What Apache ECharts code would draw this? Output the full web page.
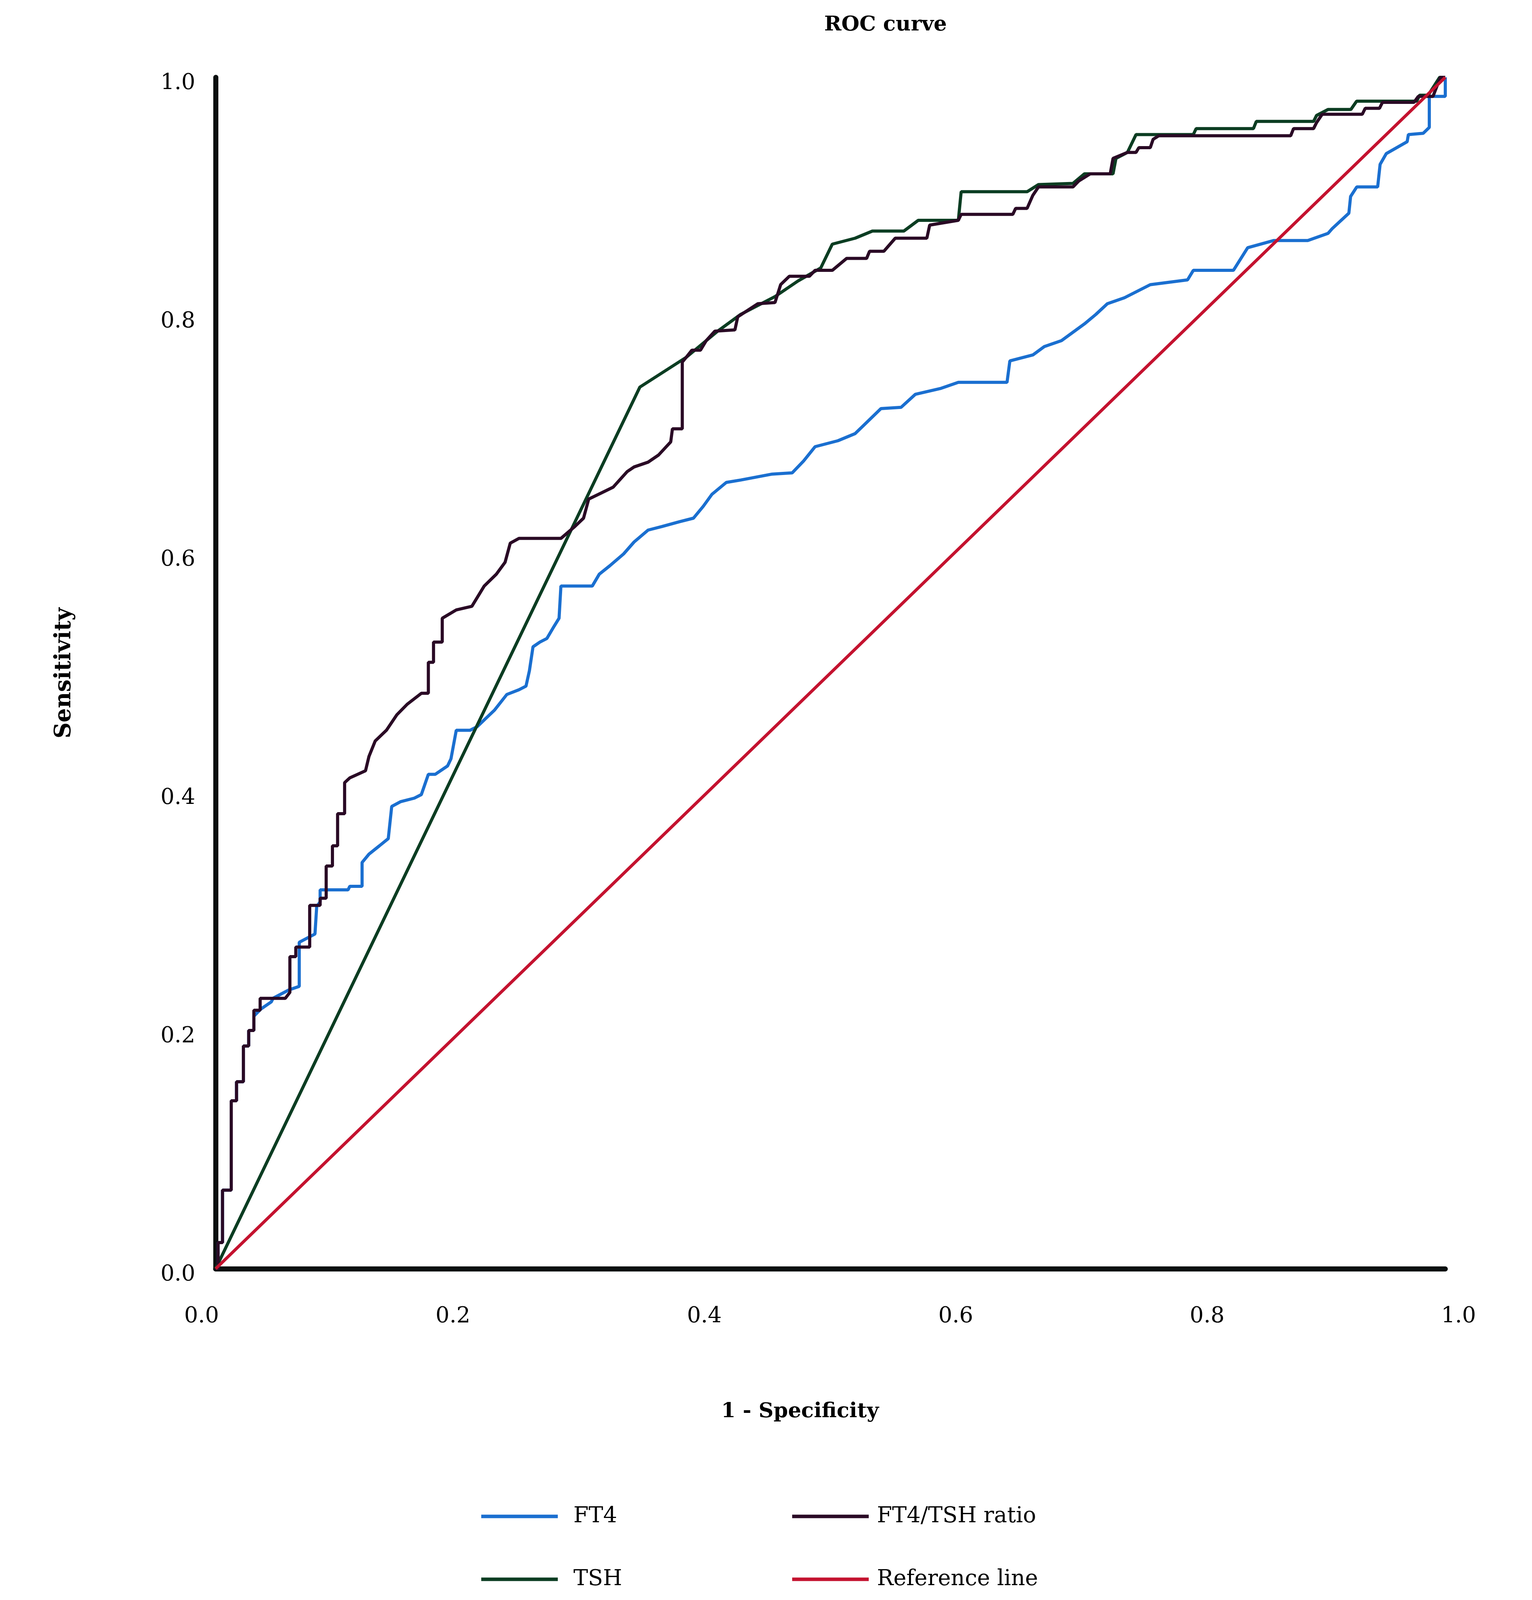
<!DOCTYPE html>
<html>
<head>
<meta charset="utf-8">
<script src="https://cdn.jsdelivr.net/npm/echarts@6/dist/echarts.min.js"></script>
<style>
html,body{margin:0;padding:0;background:#fff;overflow:hidden;}
#chart{width:3922px;height:4209px;}
</style>
</head>
<body>
<div id="chart"></div>
<script>
// ---- data (1 - specificity, sensitivity) ----
const tickLabels = ['0.0','0.2','0.4','0.6','0.8','1.0'];
const legendRow1 = ['FT4', 'FT4/TSH ratio'];
const legendRow2 = ['TSH', 'Reference line'];

const ft4Points = [
  [0,0],[0.002,0],[0.002,0.022],[0.0056,0.022],[0.0056,0.066],[0.0127,0.066],[0.0127,0.141],
  [0.017,0.141],[0.017,0.157],[0.0226,0.157],[0.0226,0.187],[0.0269,0.187],[0.0269,0.200],
  [0.0311,0.200],[0.0311,0.212],[0.0368,0.218],[0.0453,0.224],[0.0467,0.227],[0.0595,0.234],
  [0.068,0.237],[0.068,0.274],[0.0808,0.281],[0.0822,0.304],[0.085,0.308],[0.085,0.318],
  [0.1077,0.318],[0.1091,0.321],[0.1191,0.321],[0.1191,0.341],[0.1247,0.348],[0.1332,0.355],
  [0.1404,0.361],[0.1432,0.388],[0.1503,0.392],[0.1616,0.395],[0.1673,0.398],[0.173,0.415],
  [0.1786,0.415],[0.1886,0.422],[0.1914,0.428],[0.1957,0.452],[0.207,0.452],[0.2127,0.455],
  [0.2198,0.462],[0.2269,0.469],[0.2368,0.482],[0.2467,0.486],[0.2524,0.489],[0.2552,0.502],
  [0.2581,0.522],[0.2637,0.526],[0.2694,0.529],[0.2751,0.539],[0.2793,0.546],[0.2808,0.573],
  [0.3063,0.573],[0.312,0.583],[0.3205,0.590],[0.3318,0.600],[0.3403,0.610],[0.3517,0.620],
  [0.363,0.623],[0.3772,0.627],[0.3886,0.630],[0.3966,0.640],[0.4036,0.650],[0.4153,0.660],
  [0.427,0.662],[0.4526,0.667],[0.4689,0.668],[0.4782,0.678],[0.4875,0.690],[0.5061,0.695],
  [0.5201,0.701],[0.5271,0.708],[0.5411,0.722],[0.5574,0.723],[0.5691,0.734],[0.5900,0.739],
  [0.6040,0.744],[0.6436,0.744],[0.6459,0.762],[0.6646,0.767],[0.6739,0.774],[0.6879,0.779],
  [0.7065,0.793],[0.7158,0.801],[0.7252,0.810],[0.7391,0.815],[0.7601,0.826],[0.7904,0.830],
  [0.7951,0.838],[0.8277,0.838],[0.8393,0.857],[0.8603,0.863],[0.8882,0.863],[0.9046,0.869],
  [0.908,0.873],[0.9216,0.886],[0.923,0.900],[0.928,0.908],[0.945,0.908],[0.947,0.927],
  [0.952,0.936],[0.969,0.946],[0.970,0.952],[0.982,0.953],[0.987,0.958],[0.987,0.984],
  [1.0,0.984],[1.0,1.0]
];

const ratioPoints = [
  [0,0],[0.002,0],[0.002,0.022],[0.0056,0.022],[0.0056,0.066],[0.0127,0.066],[0.0127,0.141],
  [0.017,0.141],[0.017,0.157],[0.0226,0.157],[0.0226,0.187],[0.0269,0.187],[0.0269,0.200],
  [0.0311,0.200],[0.0311,0.217],[0.0362,0.217],[0.0362,0.227],[0.0567,0.227],[0.0604,0.232],
  [0.0604,0.262],[0.0652,0.262],[0.0652,0.270],[0.0765,0.270],[0.0765,0.305],[0.0850,0.305],
  [0.0850,0.311],[0.0899,0.311],[0.0899,0.338],[0.0950,0.338],[0.0950,0.355],[0.0992,0.355],
  [0.0992,0.382],[0.1049,0.382],[0.1049,0.408],[0.1091,0.412],[0.1219,0.418],[0.1247,0.430],
  [0.1298,0.443],[0.1389,0.452],[0.1474,0.465],[0.1560,0.474],[0.1673,0.483],[0.1730,0.483],
  [0.1730,0.509],[0.1772,0.509],[0.1772,0.526],[0.1843,0.526],[0.1843,0.546],[0.1957,0.553],
  [0.2084,0.556],[0.2184,0.573],[0.2283,0.583],[0.2354,0.593],[0.2396,0.609],[0.2467,0.613],
  [0.2808,0.613],[0.2921,0.623],[0.2992,0.630],[0.3034,0.646],[0.3134,0.651],[0.3233,0.656],
  [0.3346,0.669],[0.3403,0.673],[0.3517,0.677],[0.3602,0.683],[0.3701,0.694],[0.3715,0.705],
  [0.3795,0.705],[0.3795,0.761],[0.3827,0.765],[0.3873,0.771],[0.3943,0.771],[0.3990,0.779],
  [0.4060,0.787],[0.4223,0.788],[0.4246,0.799],[0.4409,0.810],[0.4549,0.811],[0.4595,0.826],
  [0.4665,0.833],[0.4828,0.833],[0.4875,0.838],[0.5015,0.838],[0.5131,0.848],[0.5294,0.848],
  [0.5318,0.854],[0.5434,0.854],[0.5527,0.865],[0.5784,0.865],[0.5807,0.876],[0.6040,0.880],
  [0.6063,0.885],[0.6483,0.885],[0.6506,0.890],[0.6599,0.890],[0.6646,0.901],[0.6692,0.908],
  [0.6972,0.908],[0.7019,0.913],[0.7112,0.919],[0.7275,0.919],[0.7298,0.932],[0.7415,0.937],
  [0.7485,0.937],[0.7508,0.941],[0.7601,0.941],[0.7624,0.948],[0.7671,0.951],[0.8743,0.951],
  [0.8766,0.957],[0.8929,0.957],[0.8953,0.962],[0.8999,0.969],[0.9325,0.969],[0.9349,0.974],
  [0.9465,0.974],[0.9489,0.979],[0.9745,0.979],[0.978,0.984],[0.990,0.984],[0.996,1.0],[1.0,1.0]
];

const tshPoints = [
  [0,0],[0.345,0.740],[0.3827,0.765],[0.4083,0.787],[0.4269,0.801],[0.4549,0.816],
  [0.4735,0.829],[0.4921,0.840],[0.5015,0.860],[0.5201,0.865],[0.5341,0.871],[0.5597,0.871],
  [0.5714,0.880],[0.6040,0.880],[0.6063,0.904],[0.6599,0.904],[0.6692,0.910],[0.6972,0.911],
  [0.7065,0.919],[0.7298,0.919],[0.7322,0.932],[0.7415,0.937],[0.7485,0.952],[0.7951,0.952],
  [0.7974,0.957],[0.8440,0.957],[0.8463,0.963],[0.8929,0.963],[0.8953,0.968],[0.9046,0.973],
  [0.9232,0.973],[0.9279,0.980],[0.9768,0.980],[0.9791,0.985],[0.9861,0.985],[0.9954,1.0],[1.0,1.0]
];

const referencePoints = [[0,0],[1,1]];

// ---- layout: fit the 4209-tall design into the actual viewport height ----
const DESIGN_H = 4209;
const viewH = Math.min(window.innerHeight || DESIGN_H, DESIGN_H);
const k = viewH / DESIGN_H;
function Y(v) { return Math.round(v * k); }
const el = document.getElementById('chart');
el.style.height = viewH + 'px';

// ---- styling ----
const FONT = 'DejaVu Serif';
const colors = {
  'FT4': '#1a6fd0',
  'FT4/TSH ratio': '#2a0a25',
  'TSH': '#0b3d22',
  'Reference line': '#c4122f'
};
const axisLineStyle = { color: '#0a0f0f', width: 13, cap: 'round' };

function lineSeries(name, data) {
  return {
    name: name,
    type: 'line',
    xAxisIndex: 0,
    yAxisIndex: 0,
    data: data,
    symbol: 'none',
    smooth: false,
    lineStyle: { width: 8, color: colors[name] },
    itemStyle: { color: colors[name] },
    emphasis: { disabled: true }
  };
}

function legendRow(names, centerY) {
  return {
    data: [
      { name: names[0], textStyle: { padding: [0, 0, 0, 35] } },
      { name: names[1], textStyle: { padding: [0, 0, 0, 16] } }
    ],
    left: 1232,
    top: Y(centerY) - 30,
    padding: 0,
    orient: 'horizontal',
    itemWidth: 196,
    itemHeight: 9,
    itemGap: 40,
    icon: 'rect',
    selectedMode: false,
    textStyle: {
      fontFamily: FONT, fontSize: 56, color: '#000',
      width: 520, lineHeight: 60
    }
  };
}

const chart = echarts.init(el, null, { renderer: 'canvas' });
chart.setOption({
  backgroundColor: '#ffffff',
  animation: false,
  title: {
    text: 'ROC curve',
    left: 2110,
    top: Y(72) - 32,
    padding: 0,
    textStyle: { fontFamily: FONT, fontWeight: 'bold', fontSize: 53, color: '#000' }
  },
  legend: [
    legendRow(legendRow1, 3989),
    legendRow(legendRow2, 4155)
  ],
  grid: [
    { left: 552, right: 222, top: Y(203), bottom: viewH - Y(3338), containLabel: false },
    { left: 516, right: 188, top: Y(203), bottom: viewH - Y(3338), containLabel: false }
  ],
  xAxis: [
    {
      type: 'value', gridIndex: 0, min: 0, max: 1, interval: 0.2,
      axisLine: { show: true, onZero: false, lineStyle: axisLineStyle },
      axisTick: { show: false },
      axisLabel: { show: false },
      splitLine: { show: false },
      name: '1 - Specificity',
      nameLocation: 'middle',
      nameGap: Y(3716) - Y(3338) - 28,
      nameTextStyle: { fontFamily: FONT, fontWeight: 'bold', fontSize: 53, color: '#000', padding: [0, 156, 0, 0] }
    },
    {
      type: 'value', gridIndex: 1, min: 0, max: 1, interval: 0.2,
      axisLine: { show: false },
      axisTick: { show: false },
      splitLine: { show: false },
      axisLabel: {
        show: true, margin: Y(3463) - Y(3338) - 28,
        fontFamily: FONT, fontSize: 56, color: '#000',
        formatter: function (v) { return tickLabels[Math.round(v * 5)]; }
      }
    }
  ],
  yAxis: [
    {
      type: 'value', gridIndex: 0, min: 0, max: 1, interval: 0.2,
      axisLine: { show: true, onZero: false, lineStyle: axisLineStyle },
      axisTick: { show: false },
      splitLine: { show: false },
      axisLabel: {
        margin: 52,
        fontFamily: FONT, fontSize: 56, color: '#000',
        verticalAlign: 'top',
        lineHeight: 30,
        formatter: function (v) { return tickLabels[Math.round(v * 5)]; }
      },
      name: 'Sensitivity',
      nameLocation: 'middle',
      nameGap: 358,
      nameTextStyle: { fontFamily: FONT, fontWeight: 'bold', fontSize: 57, color: '#000' }
    },
    {
      type: 'value', gridIndex: 1, min: 0, max: 1, show: false
    }
  ],
  series: [
    lineSeries('FT4', ft4Points),
    lineSeries('TSH', tshPoints),
    lineSeries('FT4/TSH ratio', ratioPoints),
    lineSeries('Reference line', referencePoints)
  ]
});
</script>
</body>
</html>
